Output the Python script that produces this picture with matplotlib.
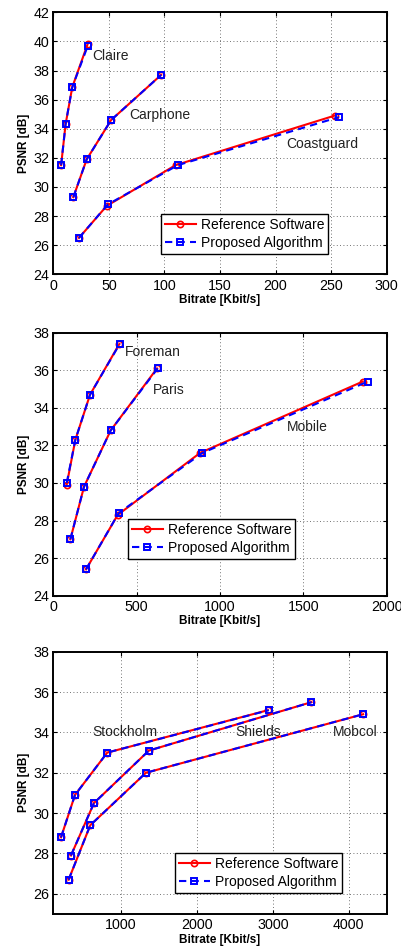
import matplotlib
matplotlib.use("Agg")
import matplotlib.pyplot as plt

plt.rcParams["font.family"] = ["Liberation Sans", "DejaVu Sans"]

# Panel 1: low bitrate sequences
claire_x_ref = [7, 11, 17, 31]
claire_x_pro = [7, 11, 17, 31]
claire_y_ref = [31.5, 34.3, 36.85, 39.85]
claire_y_pro = [31.5, 34.3, 36.85, 39.7]

carphone_x_ref = [18, 30, 52, 97]
carphone_x_pro = [18, 30, 52, 97]
carphone_y_ref = [29.3, 31.9, 34.6, 37.7]
carphone_y_pro = [29.3, 31.9, 34.6, 37.7]

coast_x_ref = [23, 48, 110, 253]
coast_x_pro = [23, 49, 112, 257]
coast_y_ref = [26.5, 28.7, 31.5, 34.9]
coast_y_pro = [26.5, 28.8, 31.5, 34.8]

# Panel 2: CIF sequences
foreman_x_ref = [80, 132, 220, 396]
foreman_x_pro = [80, 132, 220, 398]
foreman_y_ref = [29.9, 32.3, 34.7, 37.4]
foreman_y_pro = [30.0, 32.3, 34.7, 37.4]

paris_x_ref = [102, 184, 344, 622]
paris_x_pro = [102, 184, 344, 626]
paris_y_ref = [27.0, 29.8, 32.8, 36.1]
paris_y_pro = [27.0, 29.8, 32.8, 36.1]

mobile_x_ref = [196, 386, 880, 1856]
mobile_x_pro = [196, 392, 894, 1886]
mobile_y_ref = [25.4, 28.3, 31.6, 35.4]
mobile_y_pro = [25.4, 28.4, 31.6, 35.4]

# Panel 3: high resolution sequences
stock_x_ref = [211, 395, 820, 2935]
stock_x_pro = [211, 395, 820, 2945]
stock_y_ref = [28.8, 30.9, 33.0, 35.1]
stock_y_pro = [28.8, 30.9, 33.0, 35.1]

shields_x_ref = [342, 645, 1368, 3509]
shields_x_pro = [342, 645, 1368, 3509]
shields_y_ref = [27.9, 30.5, 33.1, 35.5]
shields_y_pro = [27.9, 30.5, 33.1, 35.5]

mobcol_x_ref = [311, 596, 1329, 4189]
mobcol_x_pro = [311, 596, 1329, 4189]
mobcol_y_ref = [26.7, 29.4, 32.0, 34.9]
mobcol_y_pro = [26.7, 29.4, 32.0, 34.9]

legend_labels = ["Reference Software", "Proposed Algorithm"]


def draw_panel(ax, curves, names, xlim, ylim, xticks, yticks, legend_xy):
    for (xr, yr, xp, yp), (name, tx, ty) in zip(curves, names):
        ax.plot(xr, yr, color="red", linestyle="-", linewidth=1.5,
                marker="o", markersize=4.5, markerfacecolor="none",
                markeredgewidth=1.2, label=legend_labels[0])
        ax.plot(xp, yp, color="blue", linestyle="--", dashes=(3.5, 2.5),
                linewidth=1.5, marker="s", markersize=4.2,
                markerfacecolor="none", markeredgewidth=1.4,
                label=legend_labels[1])
        ax.text(tx, ty, name, fontsize=10, va="center", ha="left", color="#222222")

    ax.set_xlim(*xlim)
    ax.set_ylim(*ylim)
    ax.set_xticks(xticks)
    ax.set_yticks(yticks)
    ax.grid(True, linestyle=(0, (1, 3)), color="#444444", linewidth=0.6)
    ax.tick_params(direction="in", length=3, width=0.8, labelsize=10.3,
                   top=True, right=True, pad=3)
    for sp in ax.spines.values():
        sp.set_linewidth(1.4)
    ax.set_xlabel("Bitrate [Kbit/s]", fontsize=8.5, fontweight="bold", labelpad=1)
    ax.set_ylabel("PSNR [dB]", fontsize=8.5, fontweight="bold", labelpad=2)

    h, l = ax.get_legend_handles_labels()
    leg = ax.legend(h[:2], l[:2], loc="upper left", bbox_to_anchor=legend_xy,
                    borderaxespad=0, fontsize=10, handlelength=2.2,
                    handletextpad=0.35, borderpad=0.3, labelspacing=0.25,
                    fancybox=False, framealpha=1)
    leg.get_frame().set_edgecolor("black")
    leg.get_frame().set_linewidth(1.0)


fig = plt.figure(figsize=(4.02, 9.46), dpi=100)

ax1 = fig.add_axes([0.1327, 0.710, 0.8294, 0.277])
draw_panel(ax1,
           [(claire_x_ref, claire_y_ref, claire_x_pro, claire_y_pro),
            (carphone_x_ref, carphone_y_ref, carphone_x_pro, carphone_y_pro),
            (coast_x_ref, coast_y_ref, coast_x_pro, coast_y_pro)],
           [("Claire", 35, 39.0), ("Carphone", 68, 34.95), ("Coastguard", 210, 32.95)],
           (0, 300), (24, 42), range(0, 301, 50), range(24, 43, 2), (0.323, 0.230))

ax2 = fig.add_axes([0.1327, 0.3703, 0.8294, 0.278])
draw_panel(ax2,
           [(foreman_x_ref, foreman_y_ref, foreman_x_pro, foreman_y_pro),
            (paris_x_ref, paris_y_ref, paris_x_pro, paris_y_pro),
            (mobile_x_ref, mobile_y_ref, mobile_x_pro, mobile_y_pro)],
           [("Foreman", 432, 36.95), ("Paris", 600, 34.95), ("Mobile", 1400, 32.96)],
           (0, 2000), (24, 38), range(0, 2001, 500), range(24, 39, 2), (0.224, 0.292))

ax3 = fig.add_axes([0.1327, 0.0338, 0.8294, 0.2773])
draw_panel(ax3,
           [(stock_x_ref, stock_y_ref, stock_x_pro, stock_y_pro),
            (shields_x_ref, shields_y_ref, shields_x_pro, shields_y_pro),
            (mobcol_x_ref, mobcol_y_ref, mobcol_x_pro, mobcol_y_pro)],
           [("Stockholm", 618, 34.0), ("Shields", 2504, 34.0), ("Mobcol", 3794, 34.0)],
           (110, 4500), (25, 38), range(1000, 4001, 1000), range(26, 39, 2), (0.365, 0.2326))

fig.savefig("out.png", dpi=100)
